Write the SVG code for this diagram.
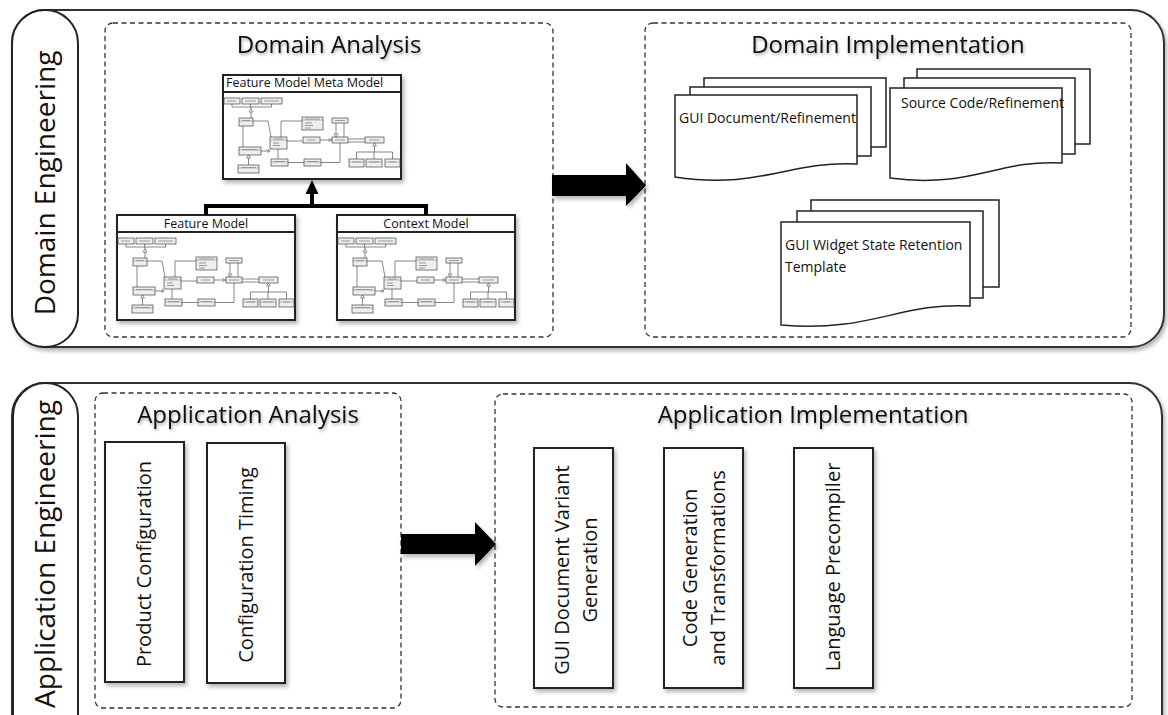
<svg xmlns="http://www.w3.org/2000/svg" width="1168" height="715" viewBox="0 0 1168 715">
<defs>
<filter id="sh" x="-10%" y="-10%" width="125%" height="125%"><feDropShadow dx="2" dy="3" stdDeviation="2" flood-color="#000" flood-opacity="0.3"/></filter>
<filter id="tsh" x="-10%" y="-30%" width="120%" height="170%"><feDropShadow dx="1" dy="2" stdDeviation="1.5" flood-color="#000" flood-opacity="0.35"/></filter>
<g id="uml">
<g fill="none" stroke="#555" stroke-width="0.7">
<path d="M9,12V15M27.5,12V15M48.5,12V15M9,15H48.5M28,15V26"/>
<path d="M20,34V55M30,29H45L48,45M38,59H47M25.5,63V73M58,45V29H79M64,49H80M97,48H109M113,31V45M121,31V45M125,47H142M125,50H142M55,57V67M65,70.5H81M98,70.5H117V51M151.5,51V60M133.5,60H169.5M133.5,60V67M151,60V67M169.5,60V67"/>
</g>
<g fill="#fff" stroke="#555" stroke-width="0.6">
<path d="M26,20L28,17L30,20Z M23.5,66L25.5,63L27.5,66Z M45,57.5L47,59L45,60.5Z M106,46.5L109,48L106,49.5Z M111,42L113,45L115,42Z M149.5,54L151.5,51L153.5,54Z"/>
</g>
<g fill="#eeeeee" stroke="#444" stroke-width="0.7">
<rect x="1" y="6" width="16" height="6"/><rect x="19" y="6" width="17" height="6"/><rect x="38" y="6" width="21" height="6"/>
<rect x="16" y="26" width="14" height="8"/><rect x="16" y="55" width="22" height="8"/><rect x="15" y="73" width="21" height="8"/>
<rect x="47" y="45" width="17" height="12"/><rect x="79" y="25" width="21" height="13"/><rect x="80" y="45" width="17" height="6"/>
<rect x="109" y="45" width="16" height="6"/><rect x="109" y="26" width="16" height="5"/><rect x="142" y="45" width="19" height="6"/>
<rect x="48" y="67" width="17" height="7"/><rect x="81" y="67" width="17" height="7"/>
<rect x="126" y="67" width="15" height="8"/><rect x="143" y="67" width="16" height="8"/><rect x="162" y="67" width="15" height="8"/>
</g>
<g fill="none" stroke="#777" stroke-width="0.5">
<path d="M16,29H30M16,58H38M15,76H36M47,48H64M79,28H100M48,70H65M81,70H98M126,70H141M143,70H159M162,70H177"/>
</g>
<g fill="none" stroke="#999" stroke-width="1">
<path d="M4,9H13M22,9H33M41,9H56M19,28.5H27M19,57.5H35M18,75.5H33M51,47H60M50,51H56M50,53.5H57M82,27H97M82,31H89M82,33.5H90M82,36H88M84,48H93M112,48H122M112,28.5H122M146,48H157M51,69.5H62M84,69.5H95M129,70H138M146,70H156M166,70H173"/>
</g>
</g>
</defs>
<style>
.frame{fill:#fff;stroke:#333;stroke-width:2}
.pill{fill:#fff;stroke:#222;stroke-width:2}
.dash{fill:none;stroke:#333;stroke-width:1.3;stroke-dasharray:5 3.5}
.box{fill:#fff;stroke:#222;stroke-width:2}
.doc{fill:#fff;stroke:#222;stroke-width:1.5}
.t{font-family:"Open Sans","DejaVu Sans",sans-serif;fill:#111}
.title{font-size:24px;text-anchor:middle}
.side{font-size:28px;text-anchor:middle}
.lbl{font-size:20px;text-anchor:middle}
.small{font-size:12.5px}
.docl{font-size:14px}
.conn{fill:none;stroke:#000;stroke-width:4}
.arrow{fill:#000;stroke:none}
</style>

<rect width="1168" height="715" fill="#fff"/>

<!-- Top panel -->
<g id="domain-engineering">
<rect class="frame" x="12" y="10" width="1152" height="337" rx="33" filter="url(#sh)"/>
<rect class="pill" x="12" y="10" width="66" height="337" rx="33"/>
<text class="t side" transform="translate(55,183) rotate(-90)">Domain Engineering</text>
</g>

<g id="domain-analysis">
<rect class="dash" x="105" y="23" width="448" height="314" rx="8"/>
<text class="t title" x="329" y="53" filter="url(#tsh)">Domain Analysis</text>
</g>

<g id="feature-model-meta-model">
<rect class="box" x="223" y="75" width="178" height="104" filter="url(#sh)"/>
<line x1="223" y1="92" x2="401" y2="92" stroke="#222" stroke-width="2"/>
<text class="t small" x="226" y="87">Feature Model Meta Model</text>
<use href="#uml" transform="translate(223,92)"/>
</g>

<g id="feature-model">
<rect class="box" x="117" y="215" width="178" height="105" filter="url(#sh)"/>
<line x1="117" y1="232" x2="295" y2="232" stroke="#222" stroke-width="2"/>
<text class="t small" x="206" y="228" text-anchor="middle">Feature Model</text>
<use href="#uml" transform="translate(117,232)"/>
</g>

<g id="context-model">
<rect class="box" x="337" y="215" width="178" height="105" filter="url(#sh)"/>
<line x1="337" y1="232" x2="515" y2="232" stroke="#222" stroke-width="2"/>
<text class="t small" x="426" y="228" text-anchor="middle">Context Model</text>
<use href="#uml" transform="translate(337,232)"/>
</g>

<g id="domain-implementation">
<rect class="dash" x="645" y="23" width="486" height="314" rx="8"/>
<text class="t title" x="888" y="53" filter="url(#tsh)">Domain Implementation</text>
</g>

<g id="gui-document-refinement">
<rect class="doc" x="704" y="78" width="182" height="69"/>
<rect class="doc" x="690" y="87" width="181" height="69"/>
<path class="doc" d="M675,95H857V164C790,160 760.5,190 675,177Z"/>
<text class="t docl" x="679" y="123">GUI Document/Refinement</text>
</g>

<g id="source-code-refinement">
<rect class="doc" x="917" y="69" width="173" height="75"/>
<rect class="doc" x="904" y="78" width="171" height="76"/>
<path class="doc" d="M890,88H1062V163C998,159 971,189 890,178Z"/>
<text class="t docl" x="901" y="108">Source Code/Refinement</text>
</g>

<g id="gui-widget-state-retention-template">
<rect class="doc" x="811" y="200" width="188" height="87"/>
<rect class="doc" x="797" y="211" width="186" height="87"/>
<path class="doc" d="M781,222H970V306C900,302 870,333 781,325Z"/>
<text class="t docl" x="785" y="250">GUI Widget State Retention</text>
<text class="t docl" x="785" y="272">Template</text>
</g>

<!-- Bottom panel -->
<g id="application-engineering">
<rect class="frame" x="12" y="383" width="1150" height="370" rx="33" filter="url(#sh)"/>
<rect class="pill" x="13" y="383" width="65" height="370" rx="33"/>
<text class="t side" transform="translate(55,554) rotate(-90)">Application Engineering</text>
</g>

<g id="application-analysis">
<rect class="dash" x="95" y="393" width="306" height="315" rx="8"/>
<text class="t title" x="248" y="423" filter="url(#tsh)">Application Analysis</text>
</g>

<g id="product-configuration">
<rect class="box" x="105" y="442" width="79" height="240" filter="url(#sh)"/>
<text class="t lbl" transform="translate(151,564) rotate(-90)">Product Configuration</text>
</g>

<g id="configuration-timing">
<rect class="box" x="207" y="443" width="78" height="240" filter="url(#sh)"/>
<text class="t lbl" transform="translate(252.5,565) rotate(-90)">Configuration Timing</text>
</g>

<g id="application-implementation">
<rect class="dash" x="495" y="394" width="637" height="313" rx="8"/>
<text class="t title" x="813" y="423" filter="url(#tsh)">Application Implementation</text>
</g>

<g id="gui-document-variant-generation">
<rect class="box" x="534" y="448" width="79" height="240" filter="url(#sh)"/>
<text class="t lbl" transform="translate(569,570) rotate(-90)">GUI Document Variant</text>
<text class="t lbl" transform="translate(597,570) rotate(-90)">Generation</text>
</g>

<g id="code-generation-and-transformations">
<rect class="box" x="664" y="448" width="79" height="240" filter="url(#sh)"/>
<text class="t lbl" transform="translate(697,568) rotate(-90)">Code Generation</text>
<text class="t lbl" transform="translate(725,568) rotate(-90)">and Transformations</text>
</g>

<g id="language-precompiler">
<rect class="box" x="794" y="448" width="79" height="240" filter="url(#sh)"/>
<text class="t lbl" transform="translate(840,567) rotate(-90)">Language Precompiler</text>
</g>

<g id="connectors">
<path class="conn" d="M206,215V206H426V215M312,206V192"/>
<path class="arrow" d="M312,180L318.5,194H305.5Z"/>
<path class="arrow" d="M552,175H626V163L646,185.5L626,206V196H552Z" filter="url(#sh)"/>
<path class="arrow" d="M401,534H475V522L496,544L475,566V554H401Z" filter="url(#sh)"/>
</g>
</svg>
